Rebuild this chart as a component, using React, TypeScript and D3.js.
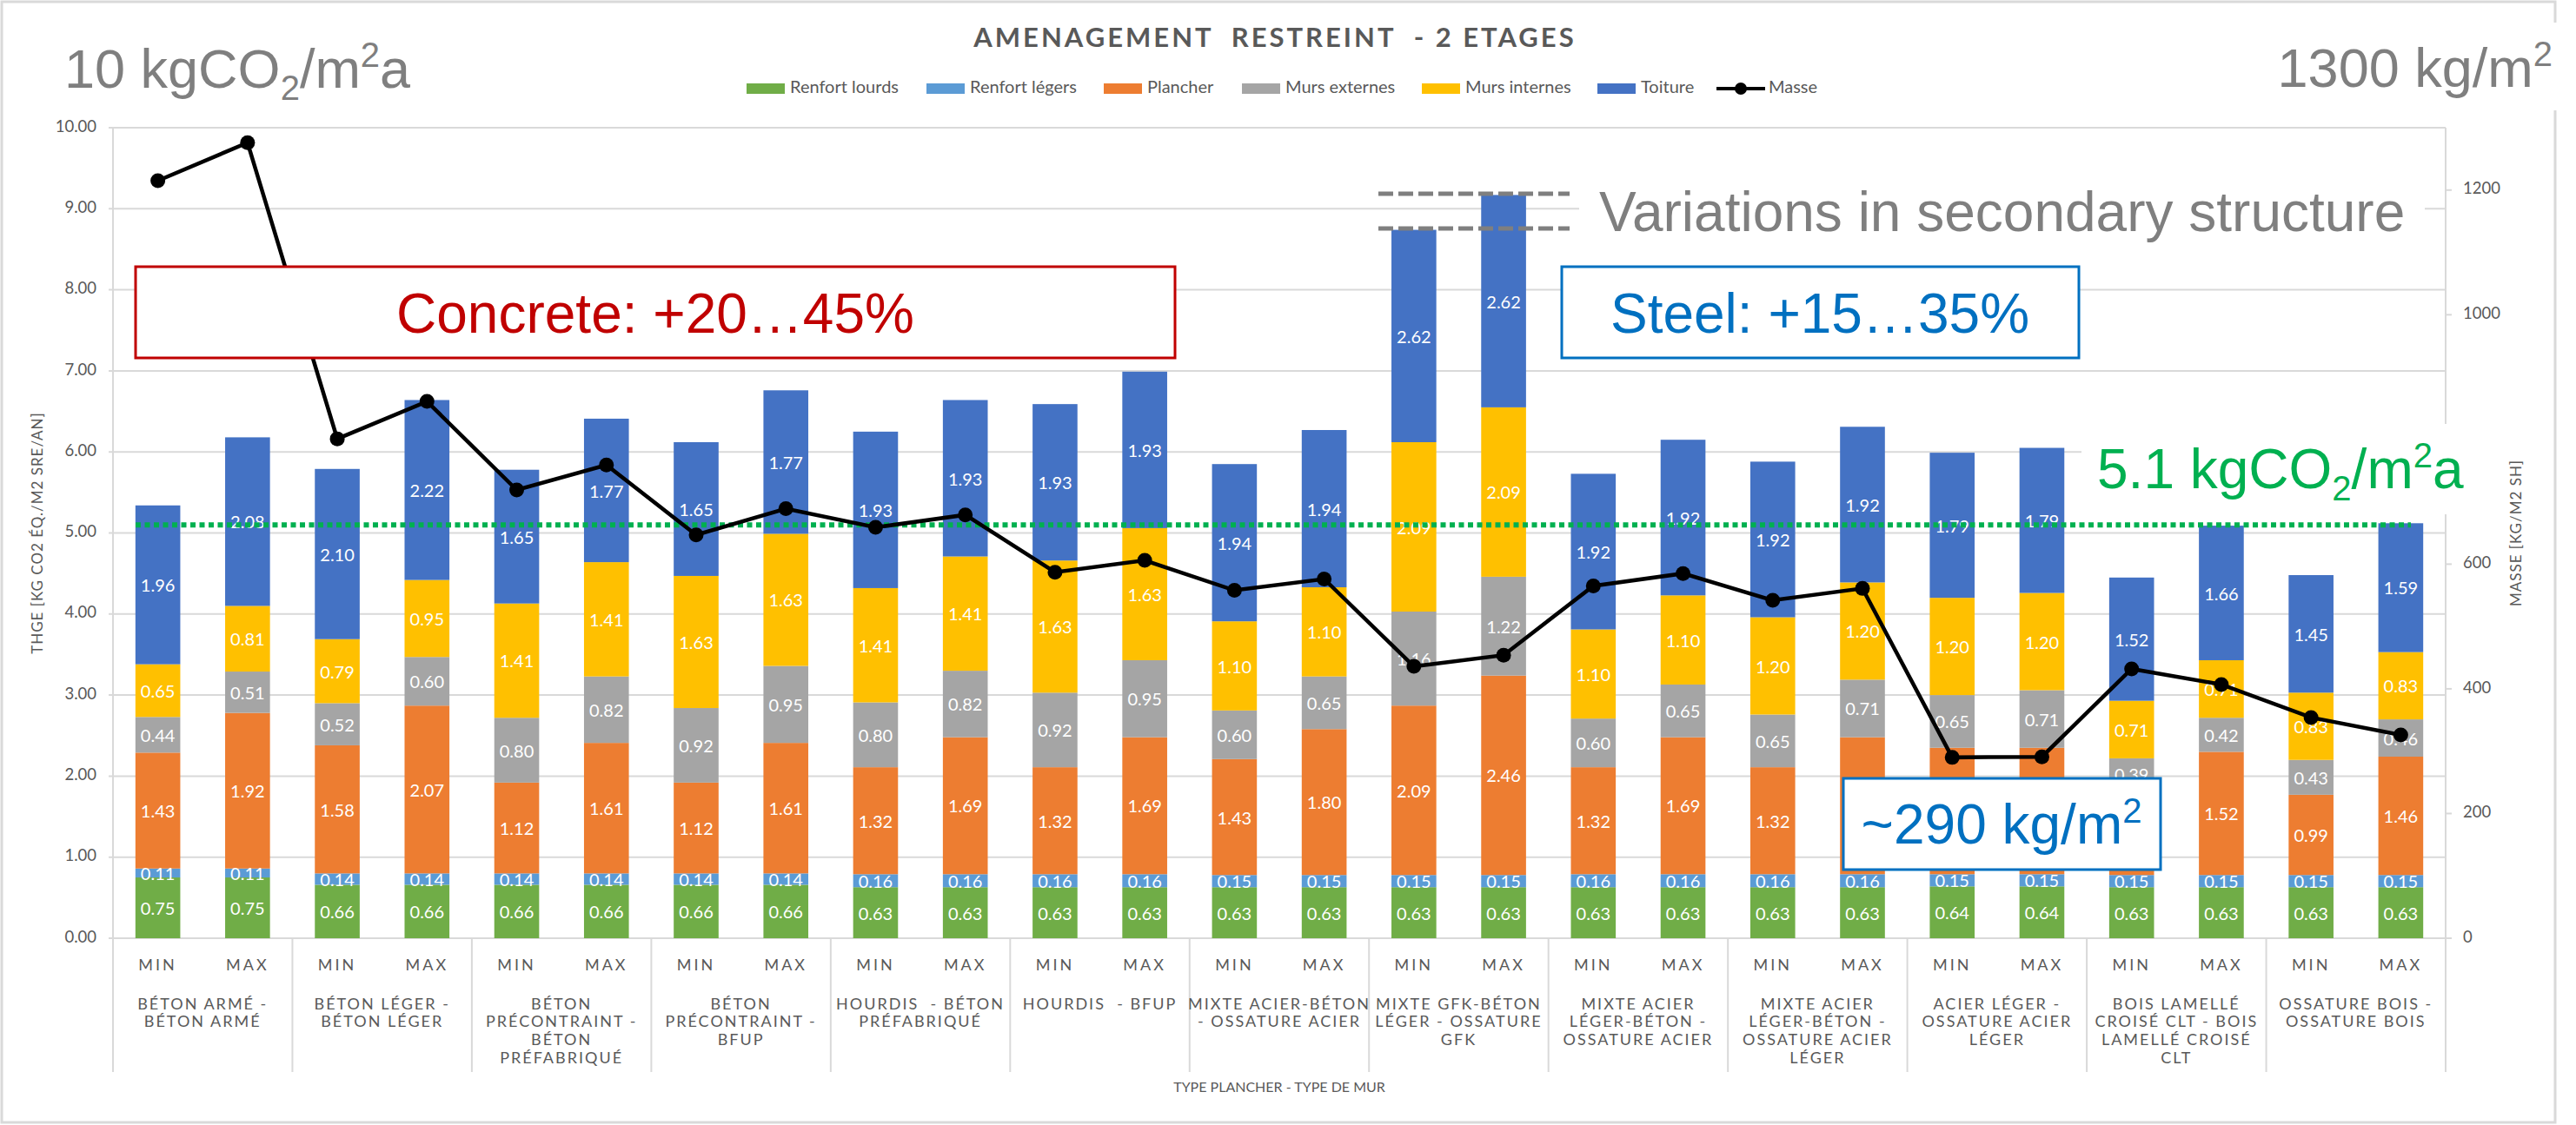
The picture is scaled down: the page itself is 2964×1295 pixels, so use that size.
import * as d3 from "d3";

// category labels as they wrap under the axis
const categoryLines = [
  ["BÉTON ARMÉ -", "BÉTON ARMÉ"],
  ["BÉTON LÉGER -", "BÉTON LÉGER"],
  ["BÉTON", "PRÉCONTRAINT -", "BÉTON", "PRÉFABRIQUÉ"],
  ["BÉTON", "PRÉCONTRAINT -", "BFUP"],
  ["HOURDIS  - BÉTON", "PRÉFABRIQUÉ"],
  ["HOURDIS  - BFUP"],
  ["MIXTE ACIER-BÉTON", "- OSSATURE ACIER"],
  ["MIXTE GFK-BÉTON", "LÉGER - OSSATURE", "GFK"],
  ["MIXTE ACIER", "LÉGER-BÉTON -", "OSSATURE ACIER"],
  ["MIXTE ACIER", "LÉGER-BÉTON -", "OSSATURE ACIER", "LÉGER"],
  ["ACIER LÉGER -", "OSSATURE ACIER", "LÉGER"],
  ["BOIS LAMELLÉ", "CROISÉ CLT - BOIS", "LAMELLÉ CROISÉ", "CLT"],
  ["OSSATURE BOIS -", "OSSATURE BOIS"],
];
const categories = categoryLines.map((l) => l.join(" "));
const variants = ["MIN", "MAX"];

const seriesNames = ["Renfort lourds", "Renfort légers", "Plancher", "Murs externes", "Murs internes", "Toiture"];
const seriesColors = ["#70AD47", "#5B9BD5", "#ED7D31", "#A5A5A5", "#FFC000", "#4472C4"];

// kg CO2 eq / m2 SRE / an, per series, MIN and MAX variants
const renfortLourdsMin = [0.75, 0.66, 0.66, 0.66, 0.63, 0.63, 0.63, 0.63, 0.63, 0.63, 0.64, 0.63, 0.63];
const renfortLourdsMax = [0.75, 0.66, 0.66, 0.66, 0.63, 0.63, 0.63, 0.63, 0.63, 0.63, 0.64, 0.63, 0.63];
const renfortLegersMin = [0.11, 0.14, 0.14, 0.14, 0.16, 0.16, 0.15, 0.15, 0.16, 0.16, 0.15, 0.15, 0.15];
const renfortLegersMax = [0.11, 0.14, 0.14, 0.14, 0.16, 0.16, 0.15, 0.15, 0.16, 0.16, 0.15, 0.15, 0.15];
const plancherMin = [1.43, 1.58, 1.12, 1.12, 1.32, 1.32, 1.43, 2.09, 1.32, 1.32, 1.56, 1.05, 0.99];
const plancherMax = [1.92, 2.07, 1.61, 1.61, 1.69, 1.69, 1.8, 2.46, 1.69, 1.69, 1.56, 1.52, 1.46];
const mursExternesMin = [0.44, 0.52, 0.8, 0.92, 0.8, 0.92, 0.6, 1.16, 0.6, 0.65, 0.65, 0.39, 0.43];
const mursExternesMax = [0.51, 0.6, 0.82, 0.95, 0.82, 0.95, 0.65, 1.22, 0.65, 0.71, 0.71, 0.42, 0.46];
const mursInternesMin = [0.65, 0.79, 1.41, 1.63, 1.41, 1.63, 1.1, 2.09, 1.1, 1.2, 1.2, 0.71, 0.83];
const mursInternesMax = [0.81, 0.95, 1.41, 1.63, 1.41, 1.63, 1.1, 2.09, 1.1, 1.2, 1.2, 0.71, 0.83];
const toitureMin = [1.96, 2.1, 1.65, 1.65, 1.93, 1.93, 1.94, 2.62, 1.92, 1.92, 1.79, 1.52, 1.45];
const toitureMax = [2.08, 2.22, 1.77, 1.77, 1.93, 1.93, 1.94, 2.62, 1.92, 1.92, 1.79, 1.66, 1.59];

// kg / m2 SH
const masseMin = [1215, 801, 719, 647, 659, 587, 558, 436, 565, 542, 290, 432, 354];
const masseMax = [1276, 861, 759, 689, 679, 606, 576, 454, 585, 561, 291, 407, 326];

const targetCO2 = 5.1;
const yTicks = [0, 1, 2, 3, 4, 5, 6, 7, 8, 9, 10];
const yRightTicks = [0, 200, 400, 600, 800, 1000, 1200];

const W = 2964;
const H = 1295;
const LEFT = 130;
const RIGHT = 2814;
const TOP = 147;
const BOTTOM = 1080;
const FONT = "Lato, 'Open Sans', sans-serif";
const ARIAL = "'Liberation Sans', Arial, sans-serif";
const TXT = "#595959";
const GRID = "#D9D9D9";
const BLUE = "#0070C0";
const RED = "#C00000";

type Row = { id: string; cat: string; variant: string; values: number[]; masse: number };

const rows: Row[] = categories.flatMap((cat, i) => [
  {
    id: `${i}-MIN`,
    cat,
    variant: "MIN",
    values: [renfortLourdsMin[i], renfortLegersMin[i], plancherMin[i], mursExternesMin[i], mursInternesMin[i], toitureMin[i]],
    masse: masseMin[i],
  },
  {
    id: `${i}-MAX`,
    cat,
    variant: "MAX",
    values: [renfortLourdsMax[i], renfortLegersMax[i], plancherMax[i], mursExternesMax[i], mursInternesMax[i], toitureMax[i]],
    masse: masseMax[i],
  },
]);

export default function App() {
  const x0 = d3.scaleBand<string>().domain(categories).range([LEFT, RIGHT]);
  const x1 = d3.scaleBand<string>().domain(variants).range([0, x0.bandwidth()]).paddingInner(0.5).paddingOuter(0.25);
  const y = d3.scaleLinear().domain([0, 10]).range([BOTTOM, TOP]);
  const yR = d3.scaleLinear().domain([0, 1300]).range([BOTTOM, TOP]);
  const bw = x1.bandwidth();
  const barX = (r: Row) => (x0(r.cat) ?? 0) + (x1(r.variant) ?? 0);

  const stacked = d3
    .stack<Row, number>()
    .keys(d3.range(seriesNames.length))
    .value((d, k) => d.values[k])(rows);

  const fmt = d3.format(".2f");

  const masseLine = d3
    .line<Row>()
    .x((r) => barX(r) + bw / 2)
    .y((r) => yR(r.masse));

  const legendX = [859, 1066, 1270, 1429, 1636, 1838, 1975];

  const sepX = [...categories.map((c) => x0(c) ?? 0), RIGHT];

  return (
    <svg width={W} height={H} style={{ position: "absolute", left: 0, top: 0, background: "#fff" }} fontFamily={FONT}>
      <rect x={0} y={0} width={W} height={H} fill="#fff" />
      <rect x={2} y={2} width={2938} height={1290} fill="none" stroke={GRID} strokeWidth={3} />

      {/* title */}
      <text x={1467} y={54} textAnchor="middle" fontSize={31} fontWeight="bold" fill={TXT} letterSpacing={3} style={{ whiteSpace: "pre" }}>
        AMENAGEMENT  RESTREINT  - 2 ETAGES
      </text>

      {/* legend */}
      {seriesNames.map((name, i) => (
        <g key={name} transform={`translate(${legendX[i]},102)`}>
          <rect x={0} y={-6} width={44} height={12} fill={seriesColors[i]} />
          <text x={50} y={0} dominantBaseline="middle" fontSize={20} fill={TXT}>
            {name}
          </text>
        </g>
      ))}
      <g transform={`translate(${legendX[6]},102)`}>
        <line x1={0} x2={56} y1={0} y2={0} stroke="#000" strokeWidth={4} />
        <circle cx={28} cy={0} r={7} fill="#000" />
        <text x={60} y={0} dominantBaseline="middle" fontSize={20} fill={TXT}>
          Masse
        </text>
      </g>

      {/* gridlines and left axis */}
      {yTicks.map((t) => (
        <g key={t}>
          <line x1={LEFT - 5} x2={RIGHT} y1={y(t)} y2={y(t)} stroke={GRID} strokeWidth={2} />
          <text x={111} y={y(t)} textAnchor="end" dominantBaseline="middle" fontSize={18.5} fill={TXT}>
            {fmt(t)}
          </text>
        </g>
      ))}
      <line x1={LEFT} x2={LEFT} y1={TOP} y2={1234} stroke={GRID} strokeWidth={2} />
      <line x1={RIGHT} x2={RIGHT} y1={TOP} y2={1234} stroke={GRID} strokeWidth={2} />
      {yRightTicks.map((t) => (
        <g key={t}>
          <line x1={RIGHT} x2={RIGHT + 7} y1={yR(t)} y2={yR(t)} stroke={GRID} strokeWidth={2} />
          <text x={2834} y={yR(t)} dominantBaseline="middle" fontSize={18.5} fill={TXT}>
            {t}
          </text>
        </g>
      ))}
      <text transform={`translate(45,${(TOP + BOTTOM) / 2}) rotate(-90)`} textAnchor="middle" dominantBaseline="middle" fontSize={17} fill={TXT} letterSpacing={1}>
        THGE [KG CO2 ÉQ./M2 SRE/AN]
      </text>
      <text transform={`translate(2897,${(TOP + BOTTOM) / 2}) rotate(-90)`} textAnchor="middle" dominantBaseline="middle" fontSize={17} fill={TXT} letterSpacing={1}>
        MASSE [KG/M2 SH]
      </text>

      {/* bars */}
      {stacked.map((layer, k) => (
        <g key={k} fill={seriesColors[k]}>
          {layer.map((seg) => (
            <rect key={seg.data.id} x={barX(seg.data)} y={y(seg[1])} width={bw} height={y(seg[0]) - y(seg[1])} />
          ))}
        </g>
      ))}
      {stacked.map((layer, k) => (
        <g key={`l${k}`} fill="#fff" fontSize={20} textAnchor="middle">
          {layer.map((seg) => (
            <text key={seg.data.id} x={barX(seg.data) + bw / 2} y={y((seg[0] + seg[1]) / 2)} dominantBaseline="central">
              {fmt(seg.data.values[k])}
            </text>
          ))}
        </g>
      ))}

      {/* x axis: variants, categories, separators */}
      {sepX.map((sx, i) => (
        <line key={i} x1={sx} x2={sx} y1={BOTTOM} y2={1234} stroke={GRID} strokeWidth={2} />
      ))}
      {rows.map((r) => (
        <text key={r.id} x={barX(r) + bw / 2} y={1112} textAnchor="middle" dominantBaseline="middle" fontSize={18} fill={TXT} letterSpacing={3}>
          {r.variant}
        </text>
      ))}
      {categoryLines.map((lines, i) => (
        <text key={i} textAnchor="middle" fontSize={18} fill={TXT} letterSpacing={2} style={{ whiteSpace: "pre" }}>
          {lines.map((ln, j) => (
            <tspan key={j} x={(x0(categories[i]) ?? 0) + x0.bandwidth() / 2} y={1157 + j * 20.7} dominantBaseline="middle">
              {ln}
            </tspan>
          ))}
        </text>
      ))}
      <text x={(LEFT + RIGHT) / 2} y={1253} textAnchor="middle" dominantBaseline="middle" fontSize={16} fill={TXT}>
        TYPE PLANCHER - TYPE DE MUR
      </text>

      {/* 5.1 reference */}
      <line x1={156} x2={2774} y1={y(targetCO2)} y2={y(targetCO2)} stroke="#00B050" strokeWidth={6} strokeDasharray="6 4.5" />

      {/* masse line */}
      <path d={masseLine(rows) ?? ""} fill="none" stroke="#000" strokeWidth={4.5} />
      {rows.map((r) => (
        <circle key={r.id} cx={barX(r) + bw / 2} cy={yR(r.masse)} r={8.5} fill="#000" />
      ))}

      {/* annotations */}
      <text x={74} y={101} fontFamily={ARIAL} fontSize={63} fill="#7F7F7F">
        10 kgCO<tspan fontSize={40} dy={14}>2</tspan>
        <tspan dy={-14}>/m</tspan>
        <tspan fontSize={40} dy={-24}>2</tspan>
        <tspan dy={24}>a</tspan>
      </text>

      <rect x={2600} y={26} width={364} height={101} fill="#fff" />
      <text x={2937} y={100} textAnchor="end" fontFamily={ARIAL} fontSize={63} fill="#7F7F7F">
        1300 kg/m<tspan fontSize={40} dy={-24}>2</tspan>
      </text>

      <rect x={156} y={307} width={1196} height={105} fill="#fff" stroke={RED} strokeWidth={3} />
      <text x={754} y={383} textAnchor="middle" fontFamily={ARIAL} fontSize={64} fill={RED}>
        Concrete: +20…45%
      </text>

      <rect x={1817} y={196} width={973} height={96} fill="#fff" />
      <line x1={1586} x2={1806} y1={223} y2={223} stroke="#7F7F7F" strokeWidth={5} strokeDasharray="17 6" />
      <line x1={1586} x2={1806} y1={263} y2={263} stroke="#7F7F7F" strokeWidth={5} strokeDasharray="17 6" />
      <text x={1840} y={266} fontFamily={ARIAL} fontSize={64} fill="#7F7F7F">
        Variations in secondary structure
      </text>

      <rect x={1797} y={307} width={595} height={105} fill="#fff" stroke={BLUE} strokeWidth={3} />
      <text x={2094} y={383} textAnchor="middle" fontFamily={ARIAL} fontSize={64} fill={BLUE}>
        Steel: +15…35%
      </text>

      <rect x={2395} y={488} width={480} height={104} fill="#fff" />
      <text x={2413} y={562} fontFamily={ARIAL} fontSize={64} fill="#00B050">
        5.1 kgCO<tspan fontSize={40} dy={14}>2</tspan>
        <tspan dy={-14}>/m</tspan>
        <tspan fontSize={40} dy={-24}>2</tspan>
        <tspan dy={24}>a</tspan>
      </text>

      <rect x={2121} y={896} width={365} height={105} fill="#fff" stroke={BLUE} strokeWidth={3} />
      <text x={2303} y={971} textAnchor="middle" fontFamily={ARIAL} fontSize={64} fill={BLUE}>
        ~290 kg/m<tspan fontSize={40} dy={-24}>2</tspan>
      </text>
    </svg>
  );
}
